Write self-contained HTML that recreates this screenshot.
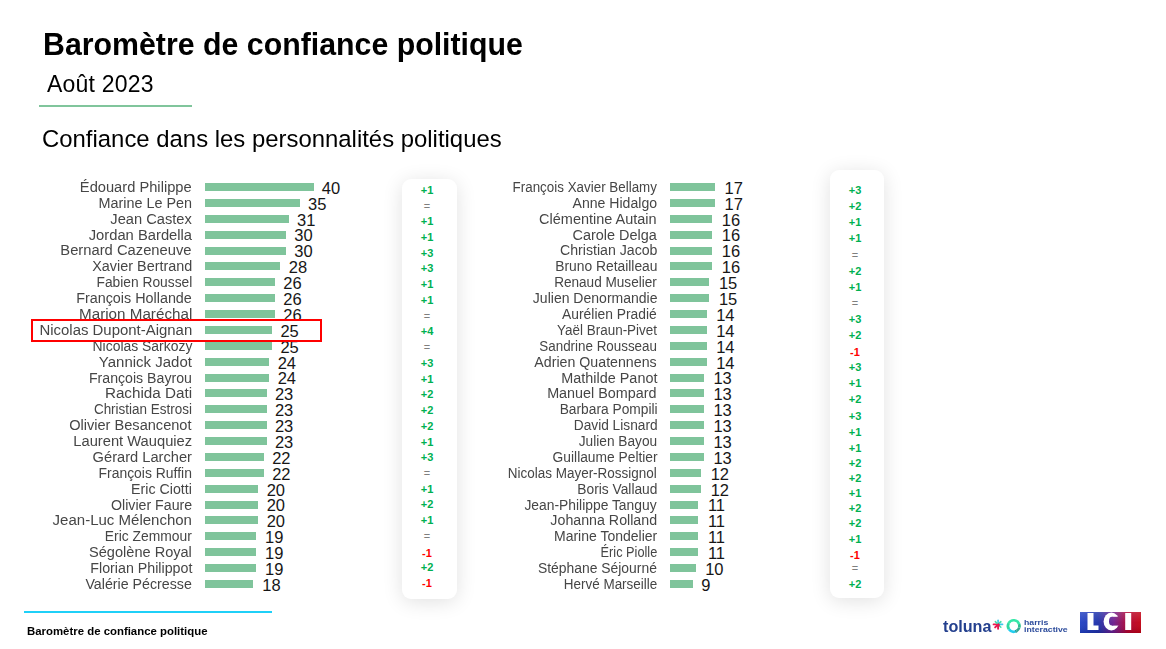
<!DOCTYPE html>
<html><head><meta charset="utf-8">
<style>
html,body{margin:0;padding:0;}
body{width:1166px;height:649px;position:relative;overflow:hidden;background:#fff;font-family:"Liberation Sans",sans-serif;}
.a{position:absolute;white-space:nowrap;}
.bar{position:absolute;height:8px;background:#7fc49b;}
.nm{position:absolute;white-space:nowrap;font-size:14px;line-height:1;color:#464646;transform-origin:100% 50%;}
.num{position:absolute;white-space:nowrap;font-size:16.5px;line-height:1;color:#161616;}
.card{position:absolute;background:#fff;border-radius:9px;box-shadow:0 3px 20px rgba(0,0,0,0.12);}
.chg{position:absolute;width:40px;text-align:center;font-weight:bold;font-size:11px;line-height:13px;}
.g{color:#00b050;} .r{color:#ff0000;} .e{color:#7f7f7f;font-weight:normal;}
.title{left:42.7px;top:28.5px;font-size:31.5px;font-weight:bold;line-height:1;color:#000;transform-origin:0 0;transform:scaleX(0.962);}
.sub{left:47px;top:72.5px;font-size:23.5px;line-height:1;color:#000;letter-spacing:0.2px;transform-origin:0 0;transform:scaleX(0.979);}
.conf{left:42px;top:127px;font-size:24.5px;line-height:1;color:#000;transform-origin:0 0;transform:scaleX(0.9755);}
.foot{left:26.5px;top:625.5px;font-size:11px;font-weight:bold;line-height:1;color:#000;transform-origin:0 0;transform:scaleX(1.036);}
</style></head><body>
<div class="a title">Baromètre de confiance politique</div>
<div class="a sub">Août 2023</div>
<div style="position:absolute;left:38.7px;top:104.6px;width:153.8px;height:2px;background:#80c59c"></div>
<div class="a conf">Confiance dans les personnalités politiques</div>
<div class="card" style="left:402px;top:179px;width:54.5px;height:420px"></div>
<div class="card" style="left:830px;top:170px;width:54px;height:428px"></div>
<div class="bar" style="left:205.1px;top:183.00px;width:108.45px"></div>
<div class="nm" style="right:974.0px;top:179.95px;transform:scaleX(1.0483)">Édouard Philippe</div>
<div class="num" style="left:321.85px;top:179.83px">40</div>
<div class="bar" style="left:205.1px;top:198.88px;width:94.65px"></div>
<div class="nm" style="right:974.0px;top:195.83px;transform:scaleX(1.0286)">Marine Le Pen</div>
<div class="num" style="left:308.05px;top:195.71px">35</div>
<div class="bar" style="left:205.1px;top:214.76px;width:83.61px"></div>
<div class="nm" style="right:974.0px;top:211.71px;transform:scaleX(1.0475)">Jean Castex</div>
<div class="num" style="left:297.01px;top:211.59px">31</div>
<div class="bar" style="left:205.1px;top:230.64px;width:80.85px"></div>
<div class="nm" style="right:974.0px;top:227.59px;transform:scaleX(1.0540)">Jordan Bardella</div>
<div class="num" style="left:294.25px;top:227.47px">30</div>
<div class="bar" style="left:205.1px;top:246.52px;width:80.85px"></div>
<div class="nm" style="right:974.0px;top:243.47px;transform:scaleX(1.0537)">Bernard Cazeneuve</div>
<div class="num" style="left:294.25px;top:243.35px">30</div>
<div class="bar" style="left:205.1px;top:262.40px;width:75.33px"></div>
<div class="nm" style="right:974.0px;top:259.35px;transform:scaleX(1.0285)">Xavier Bertrand</div>
<div class="num" style="left:288.73px;top:259.23px">28</div>
<div class="bar" style="left:205.1px;top:278.28px;width:69.81px"></div>
<div class="nm" style="right:974.0px;top:275.23px;transform:scaleX(0.9844)">Fabien Roussel</div>
<div class="num" style="left:283.21px;top:275.11px">26</div>
<div class="bar" style="left:205.1px;top:294.16px;width:69.81px"></div>
<div class="nm" style="right:974.0px;top:291.11px;transform:scaleX(1.0253)">François Hollande</div>
<div class="num" style="left:283.21px;top:290.99px">26</div>
<div class="bar" style="left:205.1px;top:310.04px;width:69.81px"></div>
<div class="nm" style="right:974.0px;top:306.99px;transform:scaleX(1.0857)">Marion Maréchal</div>
<div class="num" style="left:283.21px;top:306.87px">26</div>
<div class="bar" style="left:205.1px;top:325.92px;width:67.05px"></div>
<div class="nm" style="right:974.0px;top:322.87px;transform:scaleX(1.0668)">Nicolas Dupont-Aignan</div>
<div class="num" style="left:280.45px;top:322.75px">25</div>
<div class="bar" style="left:205.1px;top:341.80px;width:67.05px"></div>
<div class="nm" style="right:974.0px;top:338.75px;transform:scaleX(0.9943)">Nicolas Sarkozy</div>
<div class="num" style="left:280.45px;top:338.63px">25</div>
<div class="bar" style="left:205.1px;top:357.68px;width:64.29px"></div>
<div class="nm" style="right:974.0px;top:354.63px;transform:scaleX(1.0705)">Yannick Jadot</div>
<div class="num" style="left:277.69px;top:354.51px">24</div>
<div class="bar" style="left:205.1px;top:373.56px;width:64.29px"></div>
<div class="nm" style="right:974.0px;top:370.51px;transform:scaleX(1.0101)">François Bayrou</div>
<div class="num" style="left:277.69px;top:370.39px">24</div>
<div class="bar" style="left:205.1px;top:389.44px;width:61.53px"></div>
<div class="nm" style="right:974.0px;top:386.39px;transform:scaleX(1.0887)">Rachida Dati</div>
<div class="num" style="left:274.93px;top:386.27px">23</div>
<div class="bar" style="left:205.1px;top:405.32px;width:61.53px"></div>
<div class="nm" style="right:974.0px;top:402.27px;transform:scaleX(0.9616)">Christian Estrosi</div>
<div class="num" style="left:274.93px;top:402.15px">23</div>
<div class="bar" style="left:205.1px;top:421.20px;width:61.53px"></div>
<div class="nm" style="right:974.0px;top:418.15px;transform:scaleX(1.0412)">Olivier Besancenot</div>
<div class="num" style="left:274.93px;top:418.03px">23</div>
<div class="bar" style="left:205.1px;top:437.08px;width:61.53px"></div>
<div class="nm" style="right:974.0px;top:434.03px;transform:scaleX(1.0503)">Laurent Wauquiez</div>
<div class="num" style="left:274.93px;top:433.91px">23</div>
<div class="bar" style="left:205.1px;top:452.96px;width:58.77px"></div>
<div class="nm" style="right:974.0px;top:449.91px;transform:scaleX(1.0462)">Gérard Larcher</div>
<div class="num" style="left:272.17px;top:449.79px">22</div>
<div class="bar" style="left:205.1px;top:468.84px;width:58.77px"></div>
<div class="nm" style="right:974.0px;top:465.79px;transform:scaleX(0.9942)">François Ruffin</div>
<div class="num" style="left:272.17px;top:465.67px">22</div>
<div class="bar" style="left:205.1px;top:484.72px;width:53.25px"></div>
<div class="nm" style="right:974.0px;top:481.67px;transform:scaleX(1.0148)">Eric Ciotti</div>
<div class="num" style="left:266.65px;top:481.55px">20</div>
<div class="bar" style="left:205.1px;top:500.60px;width:53.25px"></div>
<div class="nm" style="right:974.0px;top:497.55px;transform:scaleX(1.0131)">Olivier Faure</div>
<div class="num" style="left:266.65px;top:497.43px">20</div>
<div class="bar" style="left:205.1px;top:516.48px;width:53.25px"></div>
<div class="nm" style="right:974.0px;top:513.43px;transform:scaleX(1.0723)">Jean-Luc Mélenchon</div>
<div class="num" style="left:266.65px;top:513.31px">20</div>
<div class="bar" style="left:205.1px;top:532.36px;width:50.49px"></div>
<div class="nm" style="right:974.0px;top:529.31px;transform:scaleX(0.9907)">Eric Zemmour</div>
<div class="num" style="left:265.09px;top:529.19px">19</div>
<div class="bar" style="left:205.1px;top:548.24px;width:50.49px"></div>
<div class="nm" style="right:974.0px;top:545.19px;transform:scaleX(1.0399)">Ségolène Royal</div>
<div class="num" style="left:265.09px;top:545.07px">19</div>
<div class="bar" style="left:205.1px;top:564.12px;width:50.49px"></div>
<div class="nm" style="right:974.0px;top:561.07px;transform:scaleX(1.0173)">Florian Philippot</div>
<div class="num" style="left:265.09px;top:560.95px">19</div>
<div class="bar" style="left:205.1px;top:580.00px;width:47.73px"></div>
<div class="nm" style="right:974.0px;top:576.95px;transform:scaleX(1.0154)">Valérie Pécresse</div>
<div class="num" style="left:262.33px;top:576.83px">18</div>
<div class="bar" style="left:670.0px;top:183.00px;width:44.97px"></div>
<div class="nm" style="right:508.9px;top:179.95px;transform:scaleX(0.9563)">François Xavier Bellamy</div>
<div class="num" style="left:724.47px;top:179.83px">17</div>
<div class="bar" style="left:670.0px;top:198.88px;width:44.97px"></div>
<div class="nm" style="right:508.9px;top:195.83px;transform:scaleX(1.0056)">Anne Hidalgo</div>
<div class="num" style="left:724.47px;top:195.71px">17</div>
<div class="bar" style="left:670.0px;top:214.76px;width:42.21px"></div>
<div class="nm" style="right:508.9px;top:211.71px;transform:scaleX(1.0342)">Clémentine Autain</div>
<div class="num" style="left:721.71px;top:211.59px">16</div>
<div class="bar" style="left:670.0px;top:230.64px;width:42.21px"></div>
<div class="nm" style="right:508.9px;top:227.59px;transform:scaleX(1.0310)">Carole Delga</div>
<div class="num" style="left:721.71px;top:227.47px">16</div>
<div class="bar" style="left:670.0px;top:246.52px;width:42.21px"></div>
<div class="nm" style="right:508.9px;top:243.47px;transform:scaleX(1.0106)">Christian Jacob</div>
<div class="num" style="left:721.71px;top:243.35px">16</div>
<div class="bar" style="left:670.0px;top:262.40px;width:42.21px"></div>
<div class="nm" style="right:508.9px;top:259.35px;transform:scaleX(0.9888)">Bruno Retailleau</div>
<div class="num" style="left:721.71px;top:259.23px">16</div>
<div class="bar" style="left:670.0px;top:278.28px;width:39.45px"></div>
<div class="nm" style="right:508.9px;top:275.23px;transform:scaleX(0.9703)">Renaud Muselier</div>
<div class="num" style="left:718.95px;top:275.11px">15</div>
<div class="bar" style="left:670.0px;top:294.16px;width:39.45px"></div>
<div class="nm" style="right:508.9px;top:291.11px;transform:scaleX(1.0012)">Julien Denormandie</div>
<div class="num" style="left:718.95px;top:290.99px">15</div>
<div class="bar" style="left:670.0px;top:310.04px;width:36.69px"></div>
<div class="nm" style="right:508.9px;top:306.99px;transform:scaleX(0.9889)">Aurélien Pradié</div>
<div class="num" style="left:716.19px;top:306.87px">14</div>
<div class="bar" style="left:670.0px;top:325.92px;width:36.69px"></div>
<div class="nm" style="right:508.9px;top:322.87px;transform:scaleX(0.9605)">Yaël Braun-Pivet</div>
<div class="num" style="left:716.19px;top:322.75px">14</div>
<div class="bar" style="left:670.0px;top:341.80px;width:36.69px"></div>
<div class="nm" style="right:508.9px;top:338.75px;transform:scaleX(0.9568)">Sandrine Rousseau</div>
<div class="num" style="left:716.19px;top:338.63px">14</div>
<div class="bar" style="left:670.0px;top:357.68px;width:36.69px"></div>
<div class="nm" style="right:508.9px;top:354.63px;transform:scaleX(1.0137)">Adrien Quatennens</div>
<div class="num" style="left:716.19px;top:354.51px">14</div>
<div class="bar" style="left:670.0px;top:373.56px;width:33.93px"></div>
<div class="nm" style="right:508.9px;top:370.51px;transform:scaleX(1.0283)">Mathilde Panot</div>
<div class="num" style="left:713.43px;top:370.39px">13</div>
<div class="bar" style="left:670.0px;top:389.44px;width:33.93px"></div>
<div class="nm" style="right:508.9px;top:386.39px;transform:scaleX(1.0268)">Manuel Bompard</div>
<div class="num" style="left:713.43px;top:386.27px">13</div>
<div class="bar" style="left:670.0px;top:405.32px;width:33.93px"></div>
<div class="nm" style="right:508.9px;top:402.27px;transform:scaleX(0.9833)">Barbara Pompili</div>
<div class="num" style="left:713.43px;top:402.15px">13</div>
<div class="bar" style="left:670.0px;top:421.20px;width:33.93px"></div>
<div class="nm" style="right:508.9px;top:418.15px;transform:scaleX(0.9796)">David Lisnard</div>
<div class="num" style="left:713.43px;top:418.03px">13</div>
<div class="bar" style="left:670.0px;top:437.08px;width:33.93px"></div>
<div class="nm" style="right:508.9px;top:434.03px;transform:scaleX(0.9779)">Julien Bayou</div>
<div class="num" style="left:713.43px;top:433.91px">13</div>
<div class="bar" style="left:670.0px;top:452.96px;width:33.93px"></div>
<div class="nm" style="right:508.9px;top:449.91px;transform:scaleX(0.9848)">Guillaume Peltier</div>
<div class="num" style="left:713.43px;top:449.79px">13</div>
<div class="bar" style="left:670.0px;top:468.84px;width:31.17px"></div>
<div class="nm" style="right:508.9px;top:465.79px;transform:scaleX(0.9632)">Nicolas Mayer-Rossignol</div>
<div class="num" style="left:710.67px;top:465.67px">12</div>
<div class="bar" style="left:670.0px;top:484.72px;width:31.17px"></div>
<div class="nm" style="right:508.9px;top:481.67px;transform:scaleX(0.9843)">Boris Vallaud</div>
<div class="num" style="left:710.67px;top:481.55px">12</div>
<div class="bar" style="left:670.0px;top:500.60px;width:28.41px"></div>
<div class="nm" style="right:508.9px;top:497.55px;transform:scaleX(0.9896)">Jean-Philippe Tanguy</div>
<div class="num" style="left:707.91px;top:497.43px">11</div>
<div class="bar" style="left:670.0px;top:516.48px;width:28.41px"></div>
<div class="nm" style="right:508.9px;top:513.43px;transform:scaleX(1.0155)">Johanna Rolland</div>
<div class="num" style="left:707.91px;top:513.31px">11</div>
<div class="bar" style="left:670.0px;top:532.36px;width:28.41px"></div>
<div class="nm" style="right:508.9px;top:529.31px;transform:scaleX(1.0001)">Marine Tondelier</div>
<div class="num" style="left:707.91px;top:529.19px">11</div>
<div class="bar" style="left:670.0px;top:548.24px;width:28.41px"></div>
<div class="nm" style="right:508.9px;top:545.19px;transform:scaleX(0.9099)">Éric Piolle</div>
<div class="num" style="left:707.91px;top:545.07px">11</div>
<div class="bar" style="left:670.0px;top:564.12px;width:25.65px"></div>
<div class="nm" style="right:508.9px;top:561.07px;transform:scaleX(0.9919)">Stéphane Séjourné</div>
<div class="num" style="left:705.15px;top:560.95px">10</div>
<div class="bar" style="left:670.0px;top:580.00px;width:22.89px"></div>
<div class="nm" style="right:508.9px;top:576.95px;transform:scaleX(0.9607)">Hervé Marseille</div>
<div class="num" style="left:701.19px;top:576.83px">9</div>
<div class="chg g" style="left:407px;top:183.80px">+1</div>
<div class="chg e" style="left:407px;top:199.80px">=</div>
<div class="chg g" style="left:407px;top:215.10px">+1</div>
<div class="chg g" style="left:407px;top:230.80px">+1</div>
<div class="chg g" style="left:407px;top:246.50px">+3</div>
<div class="chg g" style="left:407px;top:261.70px">+3</div>
<div class="chg g" style="left:407px;top:277.80px">+1</div>
<div class="chg g" style="left:407px;top:294.00px">+1</div>
<div class="chg e" style="left:407px;top:309.80px">=</div>
<div class="chg g" style="left:407px;top:324.80px">+4</div>
<div class="chg e" style="left:407px;top:340.80px">=</div>
<div class="chg g" style="left:407px;top:356.70px">+3</div>
<div class="chg g" style="left:407px;top:372.70px">+1</div>
<div class="chg g" style="left:407px;top:388.00px">+2</div>
<div class="chg g" style="left:407px;top:403.80px">+2</div>
<div class="chg g" style="left:407px;top:419.60px">+2</div>
<div class="chg g" style="left:407px;top:435.70px">+1</div>
<div class="chg g" style="left:407px;top:450.70px">+3</div>
<div class="chg e" style="left:407px;top:467.30px">=</div>
<div class="chg g" style="left:407px;top:482.70px">+1</div>
<div class="chg g" style="left:407px;top:497.70px">+2</div>
<div class="chg g" style="left:407px;top:513.90px">+1</div>
<div class="chg e" style="left:407px;top:529.90px">=</div>
<div class="chg r" style="left:407px;top:546.50px">-1</div>
<div class="chg g" style="left:407px;top:560.70px">+2</div>
<div class="chg r" style="left:407px;top:577.40px">-1</div>
<div class="chg g" style="left:835px;top:183.50px">+3</div>
<div class="chg g" style="left:835px;top:199.50px">+2</div>
<div class="chg g" style="left:835px;top:216.00px">+1</div>
<div class="chg g" style="left:835px;top:232.00px">+1</div>
<div class="chg e" style="left:835px;top:248.50px">=</div>
<div class="chg g" style="left:835px;top:264.50px">+2</div>
<div class="chg g" style="left:835px;top:280.70px">+1</div>
<div class="chg e" style="left:835px;top:296.90px">=</div>
<div class="chg g" style="left:835px;top:313.00px">+3</div>
<div class="chg g" style="left:835px;top:328.80px">+2</div>
<div class="chg r" style="left:835px;top:345.70px">-1</div>
<div class="chg g" style="left:835px;top:360.60px">+3</div>
<div class="chg g" style="left:835px;top:376.70px">+1</div>
<div class="chg g" style="left:835px;top:392.60px">+2</div>
<div class="chg g" style="left:835px;top:409.80px">+3</div>
<div class="chg g" style="left:835px;top:425.90px">+1</div>
<div class="chg g" style="left:835px;top:441.70px">+1</div>
<div class="chg g" style="left:835px;top:456.70px">+2</div>
<div class="chg g" style="left:835px;top:471.70px">+2</div>
<div class="chg g" style="left:835px;top:486.80px">+1</div>
<div class="chg g" style="left:835px;top:501.70px">+2</div>
<div class="chg g" style="left:835px;top:516.80px">+2</div>
<div class="chg g" style="left:835px;top:532.70px">+1</div>
<div class="chg r" style="left:835px;top:548.50px">-1</div>
<div class="chg e" style="left:835px;top:562.30px">=</div>
<div class="chg g" style="left:835px;top:577.50px">+2</div>
<div style="position:absolute;left:31px;top:319px;width:287px;height:19px;border:2px solid #ff0000;background:transparent"></div>
<div style="position:absolute;left:24px;top:611px;width:248px;height:2px;background:#1fd0f8"></div>
<div class="a foot">Baromètre de confiance politique</div>
<svg style="position:absolute;left:0;top:0" width="1166" height="649" viewBox="0 0 1166 649">
<defs>
<linearGradient id="lci" x1="0" y1="0" x2="1" y2="0">
<stop offset="0" stop-color="#1f3fc4"/><stop offset="0.3" stop-color="#1c2ea8"/><stop offset="0.55" stop-color="#6a1a8c"/><stop offset="0.78" stop-color="#b0002e"/><stop offset="1" stop-color="#c20012"/>
</linearGradient>
<linearGradient id="gloss" x1="0" y1="0" x2="0" y2="1">
<stop offset="0" stop-color="#fff" stop-opacity="0.18"/><stop offset="0.5" stop-color="#fff" stop-opacity="0.05"/><stop offset="1" stop-color="#000" stop-opacity="0.12"/>
</linearGradient>
<linearGradient id="ring" x1="0" y1="0" x2="1" y2="1">
<stop offset="0" stop-color="#2fd69a"/><stop offset="0.5" stop-color="#22c7b0"/><stop offset="1" stop-color="#2aa8e0"/>
</linearGradient>
</defs>
<rect x="1080" y="612" width="61" height="21" fill="url(#lci)"/>
<rect x="1080" y="612" width="61" height="21" fill="url(#gloss)"/>
<path d="M1087.5 613 h6 v12.6 h5 v4.4 h-11 z" fill="#fff"/>
<mask id="cm" maskUnits="userSpaceOnUse" x="1095" y="605" width="35" height="35"><rect x="1095" y="605" width="35" height="35" fill="#000"/><ellipse cx="1111.4" cy="621.5" rx="7.8" ry="9" fill="#fff"/><ellipse cx="1112" cy="621.2" rx="3" ry="4.4" fill="#000"/><rect x="1112" y="616.8" width="10" height="8.8" fill="#000"/></mask>
<rect x="1095" y="605" width="35" height="35" fill="#fff" mask="url(#cm)"/>
<rect x="1125.2" y="613" width="6" height="17" fill="#fff"/>
<path d="M1019.10 624.03 A5.75 5.75 0 0 0 1008.72 623.12" fill="none" stroke="#36e8a8" stroke-width="2.7"/><path d="M1008.72 623.12 A5.75 5.75 0 0 0 1008.99 629.30" fill="none" stroke="#2fd8a0" stroke-width="2.7"/><path d="M1008.99 629.30 A5.75 5.75 0 0 0 1015.19 631.55" fill="none" stroke="#22cdee" stroke-width="2.7"/><path d="M1015.19 631.55 A5.75 5.75 0 0 0 1016.58 630.98" fill="none" stroke="#139a9a" stroke-width="2.7"/><path d="M1016.58 630.98 A5.75 5.75 0 0 0 1019.25 627.49" fill="none" stroke="#35a890" stroke-width="2.7"/><path d="M1019.25 627.49 A5.75 5.75 0 0 0 1019.10 624.03" fill="none" stroke="#2bbf8e" stroke-width="2.7"/>
<line x1="998.1" y1="624.4" x2="998.10" y2="620.20" stroke="#3cc8ea" stroke-width="1.6" stroke-linecap="round"/><line x1="998.1" y1="624.4" x2="1000.86" y2="621.64" stroke="#45e0a8" stroke-width="1.5" stroke-linecap="round"/><line x1="998.1" y1="624.4" x2="1002.60" y2="624.40" stroke="#3cc8ea" stroke-width="1.6" stroke-linecap="round"/><line x1="998.1" y1="624.4" x2="1000.86" y2="627.16" stroke="#45e0a8" stroke-width="1.5" stroke-linecap="round"/><line x1="998.1" y1="624.4" x2="998.10" y2="628.70" stroke="#e8174f" stroke-width="1.9" stroke-linecap="round"/><line x1="998.1" y1="624.4" x2="995.13" y2="627.37" stroke="#e8174f" stroke-width="1.9" stroke-linecap="round"/><line x1="998.1" y1="624.4" x2="993.60" y2="624.40" stroke="#e8174f" stroke-width="1.9" stroke-linecap="round"/><line x1="998.1" y1="624.4" x2="995.34" y2="621.64" stroke="#45e0a8" stroke-width="1.5" stroke-linecap="round"/><circle cx="998.3000000000001" cy="625.0" r="1.6" fill="#e8174f"/>
</svg>
<div class="a" style="left:942.5px;top:619px;font-size:16px;font-weight:bold;line-height:1;color:#24408e;transform-origin:0 0;transform:scaleX(1.01)" id="tol">toluna</div>
<div class="a" style="left:1024.3px;top:620px;font-size:7.8px;font-weight:bold;line-height:6.6px;color:#2d4c9c;transform-origin:0 0;transform:scaleX(1.12)" id="har">harris<br>interactive</div>

</body></html>
